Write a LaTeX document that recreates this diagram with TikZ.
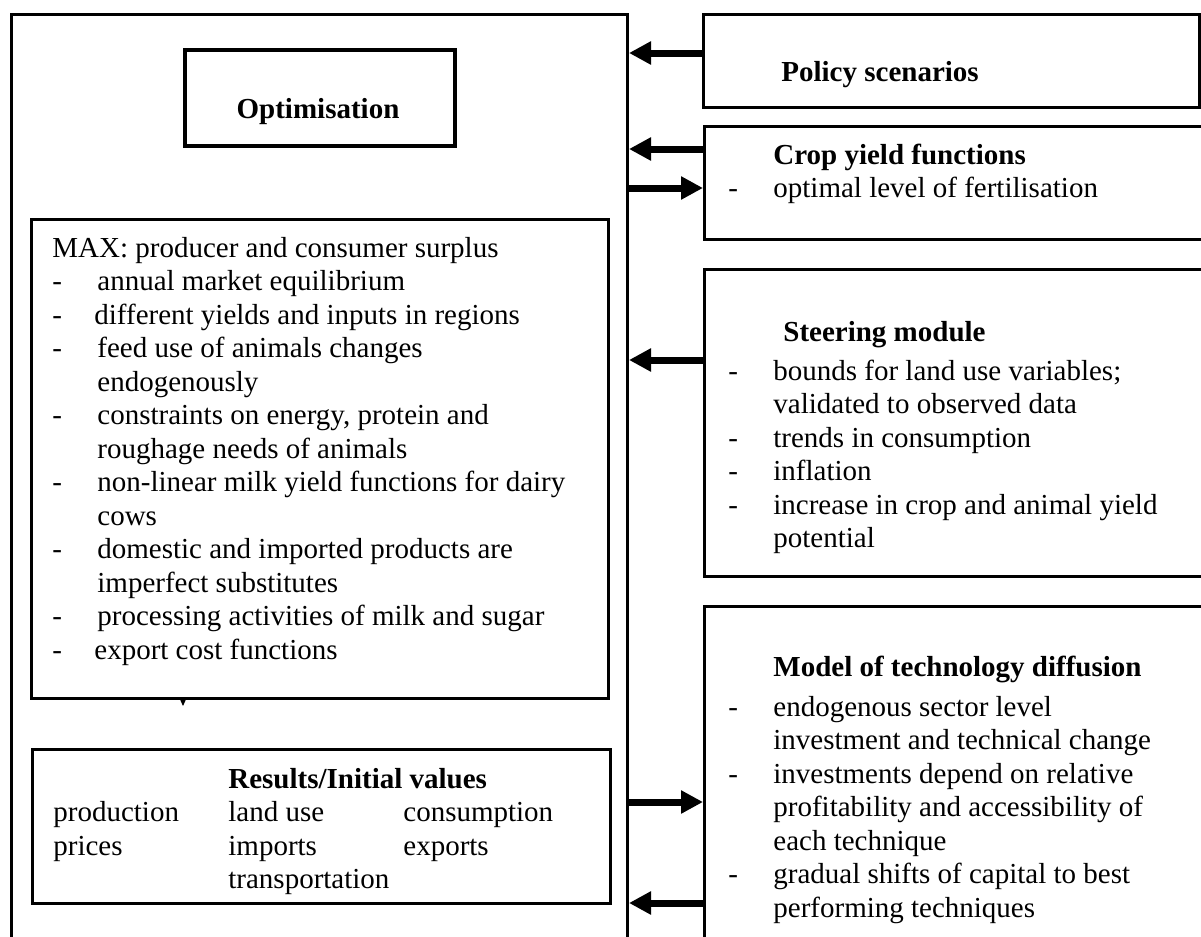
\documentclass[tikz,border=0pt]{standalone}
\usepackage{fontspec}
\setmainfont{Liberation Serif}
\usetikzlibrary{arrows.meta}
\tikzset{panel/.style={draw, line width=1.5pt, rectangle, inner sep=0pt, anchor=north west},
         link/.style={line width=3.5pt, -{Triangle[length=11pt,width=11pt]}},
         txt/.style={inner sep=0pt, anchor=base west, font=\fontsize{14.5}{16.75}\selectfont}}
\newcommand{\dashrow}{@{}p{22.5pt}@{}l@{}}

\begin{document}
\begin{tikzpicture}[x=0.5pt, y=-0.5pt]

          \useasboundingbox (0,0) rectangle (1201,937);
          \clip (0,0) rectangle (1201,937);

          % model side
          \node[panel, minimum width=308pt, minimum height=473.5pt] (outer) at (10,13){};
          \node[panel, line width=1.75pt, minimum width=135pt, minimum height=48pt] (optbox) at (183,48){};
          \node[panel, minimum width=288.5pt, minimum height=239.5pt] (maxbox) at (30,218){};
          \node[panel, minimum width=289pt, minimum height=77pt] (resbox) at (31,748){};

          % input modules
          \node[panel, minimum width=248pt, minimum height=46.5pt] (policy) at (702,13){};
          \node[panel, minimum width=256pt, minimum height=56.5pt] (crop) at (703,125){};
          \node[panel, minimum width=256pt, minimum height=153.5pt] (steer) at (703,268){};
          \node[panel, minimum width=256pt, minimum height=177.5pt] (techdiff) at (703,605){};

          \node[txt, anchor=base] (optlabel) at (318,118){\textbf{Optimisation}};
          \node[txt] (maxtext) at (52,257){\begin{tabular}[t]{\dashrow}
            \multicolumn{2}{@{}l@{}}{MAX: producer and consumer surplus}\\
            - & annual market equilibrium\\
            - & \hspace{-1.5pt}different yields and inputs in regions\\
            - & feed use of animals changes\\
              & endogenously\\
            - & constraints on energy, protein and\\
              & roughage needs of animals\\
            - & non-linear milk yield functions for dairy\\
              & cows\\
            - & domestic and imported products are\\
              & imperfect substitutes\\
            - & processing activities of milk and sugar\\
            - & \hspace{-1.5pt}export cost functions
          \end{tabular}};
          \node[txt] (restext) at (53,788){\begin{tabular}[t]{@{}p{87.5pt}@{}p{87.5pt}@{}l@{}}
            & \multicolumn{2}{@{}l@{}}{\textbf{Results/Initial values}}\\
            production & land use & consumption\\
            prices & imports & exports\\
            & transportation &
          \end{tabular}};

          \node[txt] (policytext) at (781,82){\textbf{Policy scenarios}};
          \node[txt] (croptext) at (728,164){\begin{tabular}[t]{\dashrow}
            & \textbf{Crop yield functions}\\
            - & optimal level of fertilisation
          \end{tabular}};
          \node[txt] (steertext) at (728,341){\begin{tabular}[t]{\dashrow}
            & \hspace{5pt}\textbf{Steering module}\\[2.75pt]
            - & bounds for land use variables;\\
              & validated to observed data\\
            - & trends in consumption\\
            - & inflation\\
            - & increase in crop and animal yield\\
              & potential
          \end{tabular}};
          \node[txt] (techtext) at (728,676){\begin{tabular}[t]{\dashrow}
            & \textbf{Model of technology diffusion}\\[3.25pt]
            - & endogenous sector level\\
              & investment and technical change\\
            - & investments depend on relative\\
              & profitability and accessibility of\\
              & each technique\\
            - & gradual shifts of capital to best\\
              & performing techniques
          \end{tabular}};

          \coordinate (stub) at (183,706);
          \draw[line width=0.5pt, -{Triangle[length=4pt,width=3.5pt]}] (maxbox.south -| stub)--(stub);

          \draw[link](policy.west |- 0,53)--(outer.east |- 0,53);
          \draw[link](crop.west |- 0,149)--(outer.east |- 0,149);
          \draw[link](outer.east |- 0,188)--(crop.west |- 0,188);
          \draw[link](steer.west |- 0,360)--(outer.east |- 0,360);
          \draw[link](outer.east |- 0,802)--(techdiff.west |- 0,802);
          \draw[link](techdiff.west |- 0,903)--(outer.east |- 0,903);

        \end{tikzpicture}
\end{document}
